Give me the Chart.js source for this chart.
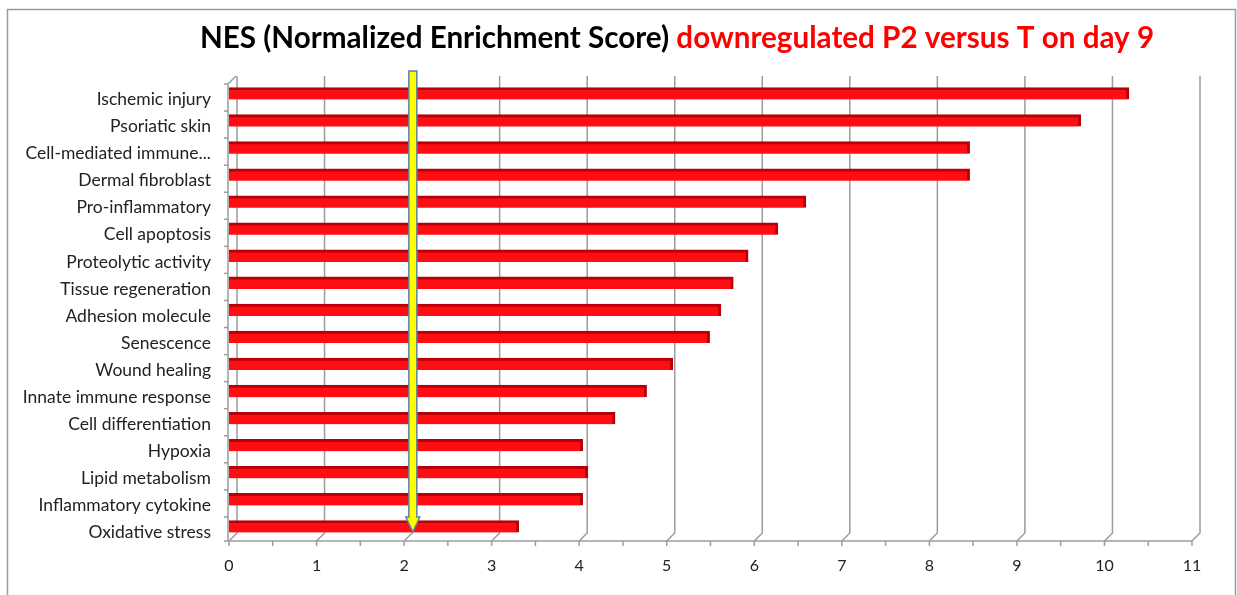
<!DOCTYPE html>
<html>
<head>
<meta charset="utf-8">
<script src="https://cdn.jsdelivr.net/npm/chart.js@4"></script>
<style>
  body { margin: 0; background: #fff; }
  #wrap { width: 1237px; height: 595px; position: relative; }
</style>
</head>
<body>
<div id="wrap"><canvas id="chart"></canvas></div>
<script>
// data
const categories = [
  "Ischemic injury", "Psoriatic skin", "Cell-mediated immune...", "Dermal fibroblast",
  "Pro-inflammatory", "Cell apoptosis", "Proteolytic activity", "Tissue regeneration",
  "Adhesion molecule", "Senescence", "Wound healing", "Innate immune response",
  "Cell differentiation", "Hypoxia", "Lipid metabolism", "Inflammatory cytokine",
  "Oxidative stress"
];
const nesValues = [10.28, 9.73, 8.46, 8.46, 6.59, 6.27, 5.93, 5.76, 5.62, 5.49,
                   5.07, 4.77, 4.41, 4.04, 4.10, 4.04, 3.31];
const xTickLabels = ["0","1","2","3","4","5","6","7","8","9","10","11"];
const thresholdNES = 2.1;   // yellow arrow
const titleBlack = "NES (Normalized Enrichment Score) ";
const titleRed = "downregulated P2 versus T on day 9";

const FONT = "Lato, 'Open Sans', sans-serif";
const DEPTH = 8;   // fake 3d depth of the walls
const gridColor = "#9c9c9c";

// walls, gridlines and the front axis (drawn before the bars)
const wallPlugin = {
  id: "wall",
  beforeDatasetsDraw(chart) {
    const ctx = chart.ctx;
    const xs = chart.scales.x;
    const a = chart.chartArea;
    ctx.save();
    ctx.strokeStyle = gridColor;
    ctx.lineWidth = 1.5;
    // vertical back gridlines + diagonal to front axis
    for (let i = 0; i < xTickLabels.length; i++) {
      const px = xs.getPixelForValue(i);
      ctx.beginPath();
      ctx.moveTo(px, a.bottom + 1);
      ctx.lineTo(px + DEPTH, a.bottom + 1 - DEPTH);
      ctx.lineTo(px + DEPTH, a.top - 4);
      ctx.stroke();
    }
    // left side wall
    ctx.beginPath();
    ctx.moveTo(a.left - 1, a.bottom + 1);
    ctx.lineTo(a.left - 1, a.top + 4);
    ctx.lineTo(a.left - 1 + DEPTH, a.top - 4);
    ctx.stroke();
    const band = (a.bottom - a.top) / categories.length;
    for (let k = 0; k <= categories.length; k++) {
      const y = Math.min(a.top + 4 + k * band, a.bottom + 1);
      ctx.beginPath();
      ctx.moveTo(a.left - 5, y);
      ctx.lineTo(a.left - 1, y);
      ctx.stroke();
    }
    // front axis with half-unit ticks
    ctx.beginPath();
    ctx.moveTo(a.left - 1, a.bottom + 1);
    ctx.lineTo(a.right, a.bottom + 1);
    ctx.stroke();
    for (let v = 0; v <= 11; v += 0.5) {
      const px = xs.getPixelForValue(v);
      ctx.beginPath();
      ctx.moveTo(px, a.bottom + 1);
      ctx.lineTo(px, a.bottom + 6);
      ctx.stroke();
    }
    ctx.restore();
  },
  afterDatasetsDraw(chart) {
    // yellow threshold arrow
    const ctx = chart.ctx;
    const a = chart.chartArea;
    const px = chart.scales.x.getPixelForValue(thresholdNES);
    const top = a.top - 9, headY = a.bottom - 23, tip = a.bottom - 8;
    ctx.save();
    ctx.beginPath();
    ctx.moveTo(px - 4, top);
    ctx.lineTo(px + 4, top);
    ctx.lineTo(px + 4, headY);
    ctx.lineTo(px + 7, headY);
    ctx.lineTo(px, tip);
    ctx.lineTo(px - 7, headY);
    ctx.lineTo(px - 4, headY);
    ctx.closePath();
    ctx.fillStyle = "#ffff00";
    ctx.fill();
    ctx.strokeStyle = "#5b80a8";
    ctx.lineWidth = 1.5;
    ctx.stroke();
    ctx.restore();
  },
  afterDraw(chart) {
    const ctx = chart.ctx;
    ctx.save();
    // outer frame
    ctx.strokeStyle = "#9a9a9a";
    ctx.lineWidth = 1.5;
    ctx.strokeRect(7.5, 9.5, 1228, 620);
    // two coloured title
    let size = 28;
    ctx.font = "bold " + size + "px " + FONT;
    const w0 = ctx.measureText(titleBlack + titleRed).width;
    size = size * 955 / w0;
    ctx.font = "bold " + size + "px " + FONT;
    const wb = ctx.measureText(titleBlack).width;
    const wr = ctx.measureText(titleRed).width;
    const x0 = 677 - (wb + wr) / 2;
    ctx.textBaseline = "alphabetic";
    ctx.textAlign = "left";
    ctx.fillStyle = "#000";
    ctx.fillText(titleBlack, x0, 48);
    ctx.fillStyle = "#ff0000";
    ctx.fillText(titleRed, x0 + wb, 48);
    ctx.restore();
  }
};

new Chart(document.getElementById("chart"), {
  type: "bar",
  data: {
    labels: categories,
    datasets: [{
      data: nesValues,
      backgroundColor: "#ff0d12",
      borderColor: "#b80008",
      borderWidth: { top: 3, right: 3, bottom: 0, left: 0 },
      borderSkipped: false,
      barThickness: 12
    }]
  },
  options: {
    indexAxis: "y",
    responsive: true,
    maintainAspectRatio: false,
    animation: false,
    layout: { padding: { top: 80, right: 45, bottom: 0, left: 0 } },
    plugins: {
      legend: { display: false },
      title: { display: false },
      tooltip: { enabled: false }
    },
    scales: {
      x: {
        min: 0,
        max: 11,
        grid: { display: false, drawTicks: false },
        border: { display: false },
        ticks: {
          stepSize: 1,
          padding: 16,
          color: "#222",
          font: { family: FONT, size: 16 },
          callback: (v) => xTickLabels[v]
        },
        afterFit: (s) => { s.height = 55; }
      },
      y: {
        grid: { display: false, drawTicks: false },
        border: { display: false },
        ticks: {
          padding: 18,
          labelOffset: 6,
          color: "#222",
          font: { family: FONT, size: 17.5 }
        },
        afterFit: (s) => { s.width = 229; }
      }
    }
  },
  plugins: [wallPlugin]
});
</script>
</body>
</html>
